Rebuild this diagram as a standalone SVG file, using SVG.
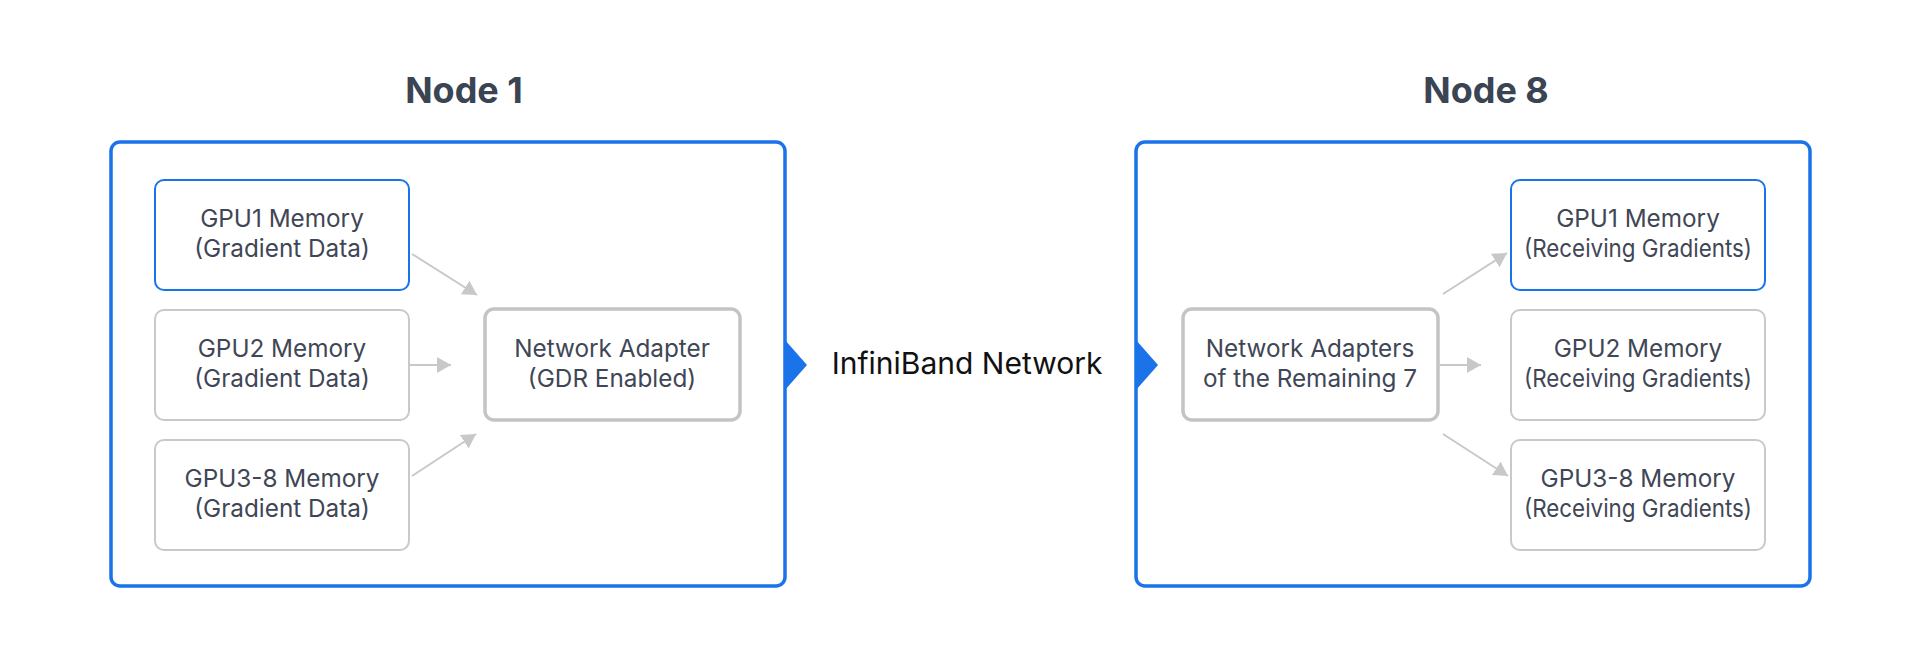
<svg xmlns="http://www.w3.org/2000/svg" width="1920" height="665" viewBox="0 0 1920 665">
  <style>
    .outer { fill: #ffffff; stroke: #1a73e8; stroke-width: 3.5; }
    .gpu { fill: #ffffff; stroke: #c9c9c9; stroke-width: 2; }
    .gpu-hl { fill: #ffffff; stroke: #1a73e8; stroke-width: 2; }
    .adapter { fill: #ffffff; stroke: #c4c4c4; stroke-width: 3.5; }
    .label { font-family: Inter, "Liberation Sans", sans-serif; font-size: 24.3px; fill: #3f4756; text-anchor: middle; }
    .title { font-family: Inter, "Liberation Sans", sans-serif; font-size: 36px; font-weight: 700; fill: #3a4453; text-anchor: middle; }
    .net { font-family: Inter, "Liberation Sans", sans-serif; font-size: 30px; fill: #111111; text-anchor: middle; }
    .conn { stroke: #c8c8c8; stroke-width: 2; fill: none; marker-end: url(#ah); }
    .tri { fill: #1a73e8; }
  </style>
  <defs>
    <marker id="ah" markerUnits="userSpaceOnUse" markerWidth="16" markerHeight="18" refX="14" refY="8" orient="auto">
      <path d="M0,0 L14,8 L0,16 Z" fill="#c8c8c8"/>
    </marker>
  </defs>
  <rect width="1920" height="665" fill="#ffffff"/>

  <g id="node1">
    <text class="title" x="464" y="103">Node 1</text>
    <rect class="outer" x="111" y="142" width="674" height="444" rx="9"/>
    <polygon class="tri" points="785,340 807,365 785,390"/>
  </g>
  <g id="n1-gpu1">
    <rect class="gpu-hl" x="155" y="180" width="254" height="110" rx="9"/>
    <text class="label" x="282" y="227">GPU1 Memory</text>
    <text class="label" x="282" y="257">(Gradient Data)</text>
  </g>
  <g id="n1-gpu2">
    <rect class="gpu" x="155" y="310" width="254" height="110" rx="9"/>
    <text class="label" x="282" y="357">GPU2 Memory</text>
    <text class="label" x="282" y="387">(Gradient Data)</text>
  </g>
  <g id="n1-gpu38">
    <rect class="gpu" x="155" y="440" width="254" height="110" rx="9"/>
    <text class="label" x="282" y="487">GPU3-8 Memory</text>
    <text class="label" x="282" y="517">(Gradient Data)</text>
  </g>
  <g id="n1-adapter">
    <rect class="adapter" x="485" y="309" width="255" height="111" rx="9"/>
    <text class="label" x="612" y="357">Network Adapter</text>
    <text class="label" x="612" y="387">(GDR Enabled)</text>
  </g>

  <g id="network">
    <text class="net" x="967" y="374">InfiniBand Network</text>
  </g>

  <g id="node8">
    <text class="title" x="1486" y="103">Node 8</text>
    <rect class="outer" x="1136" y="142" width="674" height="444" rx="9"/>
    <polygon class="tri" points="1136,340 1158,365 1136,390"/>
  </g>
  <g id="n8-adapters">
    <rect class="adapter" x="1183" y="309" width="255" height="111" rx="9"/>
    <text class="label" x="1310" y="357">Network Adapters</text>
    <text class="label" x="1310" y="387">of the Remaining 7</text>
  </g>
  <g id="n8-gpu1">
    <rect class="gpu-hl" x="1511" y="180" width="254" height="110" rx="9"/>
    <text class="label" x="1638" y="227">GPU1 Memory</text>
    <text class="label" x="1638" y="257" textLength="228" lengthAdjust="spacingAndGlyphs">(Receiving Gradients)</text>
  </g>
  <g id="n8-gpu2">
    <rect class="gpu" x="1511" y="310" width="254" height="110" rx="9"/>
    <text class="label" x="1638" y="357">GPU2 Memory</text>
    <text class="label" x="1638" y="387" textLength="228" lengthAdjust="spacingAndGlyphs">(Receiving Gradients)</text>
  </g>
  <g id="n8-gpu38">
    <rect class="gpu" x="1511" y="440" width="254" height="110" rx="9"/>
    <text class="label" x="1638" y="487">GPU3-8 Memory</text>
    <text class="label" x="1638" y="517" textLength="228" lengthAdjust="spacingAndGlyphs">(Receiving Gradients)</text>
  </g>

  <g id="connectors">
    <line class="conn" x1="412" y1="254" x2="477" y2="295"/>
    <line class="conn" x1="409" y1="365" x2="451" y2="365"/>
    <line class="conn" x1="412" y1="476" x2="476" y2="434"/>
    <line class="conn" x1="1443" y1="294" x2="1507" y2="253"/>
    <line class="conn" x1="1438" y1="365" x2="1481" y2="365"/>
    <line class="conn" x1="1443" y1="434" x2="1508" y2="476"/>
  </g>
</svg>
